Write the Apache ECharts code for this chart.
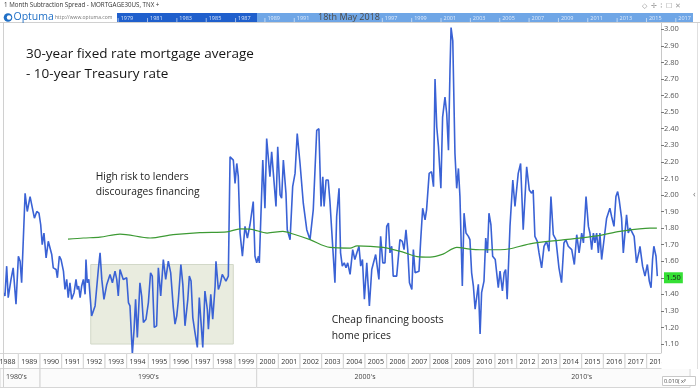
<!DOCTYPE html>
<html><head><meta charset="utf-8">
<script src="https://cdn.jsdelivr.net/npm/echarts@6/dist/echarts.min.js"></script>
<style>html,body{margin:0;padding:0;background:#fff}#c{width:700px;height:391px}</style>
</head><body><div id="c"></div>
<script>
// ---------- DATA ----------
const spreadYears = [
1988.34,1988.38,1988.46,1988.53,1988.66,1988.76,1988.89,1989.00,1989.08,1989.15,1989.31,1989.41,1989.54,1989.61,1989.74,1989.85,1989.95,
1990.03,1990.10,1990.18,1990.28,1990.38,1990.46,1990.54,1990.61,1990.74,1990.80,1990.89,1990.97,
1991.08,1991.15,1991.23,1991.30,1991.38,1991.46,1991.57,1991.66,1991.72,1991.78,1991.85,1991.92,
1992.00,1992.08,1992.12,1992.18,1992.25,1992.38,1992.54,1992.69,1992.77,1992.85,1992.95,
1993.08,1993.23,1993.34,1993.46,1993.54,1993.61,1993.69,1993.84,
1994.00,1994.08,1994.15,1994.26,1994.34,1994.41,1994.49,1994.61,1994.69,1994.77,1994.89,
1995.00,1995.10,1995.18,1995.27,1995.38,1995.46,1995.57,1995.69,1995.80,1995.92,
1996.03,1996.15,1996.23,1996.31,1996.38,1996.50,1996.59,1996.69,1996.82,1996.89,1996.97,
1997.05,1997.15,1997.26,1997.35,1997.43,1997.51,1997.61,1997.72,1997.77,1997.88,1997.97,
1998.08,1998.12,1998.23,1998.31,1998.41,1998.49,1998.58,1998.69,1998.77,1998.92,
1999.00,1999.08,1999.15,1999.23,1999.34,1999.46,1999.57,1999.69,1999.84,1999.92,
2000.00,2000.08,2000.12,2000.28,2000.38,2000.46,2000.61,2000.69,2000.89,2000.97,
2001.08,2001.15,2001.23,2001.35,2001.41,2001.54,2001.66,2001.77,2001.87,
2002.00,2002.15,2002.23,2002.31,2002.38,2002.46,2002.61,2002.77,2002.87,2002.97,
2003.05,2003.11,2003.20,2003.30,2003.38,2003.46,2003.61,2003.69,2003.80,2003.87,2003.95,
2004.04,2004.12,2004.20,2004.31,2004.43,2004.53,2004.62,2004.72,2004.80,2004.88,2004.97,
2005.08,2005.20,2005.31,2005.49,2005.64,2005.72,2005.82,2005.92,
2006.00,2006.08,2006.15,2006.23,2006.30,2006.46,2006.61,2006.72,2006.80,2006.89,2006.97,
2007.05,2007.16,2007.23,2007.31,2007.39,2007.49,2007.57,2007.66,2007.77,2007.84,2007.96,
2008.07,2008.16,2008.23,2008.31,2008.39,2008.50,2008.58,2008.69,2008.77,2008.85,2008.92,2008.97,
2009.05,2009.15,2009.23,2009.31,2009.38,2009.49,2009.57,2009.66,2009.77,2009.84,2009.92,
2010.00,2010.08,2010.16,2010.23,2010.31,2010.38,2010.49,2010.57,2010.65,2010.72,2010.81,2010.89,
2011.01,2011.15,2011.23,2011.34,2011.42,2011.49,2011.56,2011.69,2011.82,2011.92,
2012.00,2012.07,2012.18,2012.30,2012.46,2012.58,2012.69,2012.76,2012.84,2012.95,
2013.03,2013.15,2013.26,2013.38,2013.49,2013.58,2013.69,2013.81,2013.95,
2014.07,2014.18,2014.27,2014.38,2014.54,2014.66,2014.77,2014.88,
2015.00,2015.08,2015.20,2015.31,2015.38,2015.46,2015.54,2015.61,2015.69,2015.77,2015.84,2015.92,
2016.04,2016.15,2016.30,2016.38,2016.49,2016.58,2016.66,2016.73,2016.84,2016.92,2016.99,
2017.07,2017.15,2017.23,2017.31,2017.42,2017.53,2017.65,2017.69,2017.81,2017.92,
2018.03,2018.12,2018.20,2018.27,2018.33,2018.43,2018.49
];
const spreadValues = [
1.41,1.39,1.57,1.38,1.49,1.56,1.34,1.63,1.60,1.47,2.01,1.90,1.99,1.98,1.86,1.90,1.89,
1.82,1.70,1.77,1.62,1.72,1.72,1.64,1.56,1.55,1.50,1.63,1.61,
1.54,1.43,1.49,1.38,1.47,1.37,1.41,1.49,1.43,1.45,1.38,1.45,
1.49,1.40,1.61,1.47,1.49,1.27,1.33,1.55,1.65,1.49,1.37,
1.46,1.52,1.47,1.54,1.49,1.39,1.55,1.49,
1.50,1.35,1.33,1.04,1.19,1.37,1.14,1.47,1.39,1.23,1.25,
1.35,1.53,1.51,1.20,1.21,1.56,1.39,1.61,1.49,1.60,
1.53,1.32,1.22,1.27,1.36,1.58,1.46,1.21,1.37,1.51,1.48,
1.26,1.17,1.08,1.38,1.23,1.08,1.42,1.31,1.19,1.40,1.25,
1.45,1.60,1.43,1.46,1.52,1.53,1.48,1.51,2.23,2.21,
2.07,2.19,2.11,1.77,1.63,1.81,1.74,1.82,1.96,1.63,
1.59,1.63,1.59,2.21,1.92,2.34,2.11,2.26,1.93,2.29,
2.00,1.98,2.21,2.01,1.79,1.73,2.05,2.13,2.37,
2.19,1.95,1.95,1.79,1.79,1.73,1.91,2.39,2.40,1.93,
2.11,1.93,2.09,2.09,1.96,1.95,1.47,1.87,2.04,1.65,1.57,
1.59,1.56,1.59,1.52,1.67,1.61,1.65,1.69,1.57,1.61,1.37,
1.59,1.33,1.55,1.64,1.49,1.75,1.59,1.59,
1.81,1.83,1.65,1.69,1.51,1.51,1.73,1.72,1.67,1.79,1.67,
1.47,1.43,1.67,1.53,1.53,1.54,1.73,1.92,1.85,1.91,2.13,
2.14,2.05,2.70,2.41,2.29,2.04,2.47,2.59,2.49,2.27,2.75,3.01,
2.93,2.25,2.04,2.16,1.99,1.45,1.89,1.77,1.75,1.73,1.53,
1.45,1.31,1.39,1.46,1.16,1.41,1.48,1.74,1.65,1.89,1.82,1.63,
1.61,1.44,1.54,1.42,1.53,1.55,1.37,1.81,2.09,1.93,
1.93,2.13,2.19,1.79,2.17,2.03,2.01,2.03,1.75,1.72,
1.65,1.56,1.69,1.72,1.66,1.99,1.76,1.73,1.56,
1.47,1.71,1.73,1.69,1.67,1.58,1.76,1.65,
1.77,1.71,1.99,1.81,1.77,1.67,1.77,1.71,1.77,1.65,1.77,1.61,
1.74,1.86,1.92,1.87,1.81,1.99,2.02,1.97,1.86,1.65,1.66,
1.88,1.77,1.80,1.79,1.75,1.59,1.66,1.69,1.57,1.51,
1.58,1.48,1.44,1.61,1.69,1.63,1.51
];
const avgYears = [1991.29,1992.00,1992.77,1993.69,1995.08,1996.14,1997.38,1998.63,1999.23,1999.69,2000.48,2001.21,2001.68,2002.46,2003.38,2004.31,2004.63,2005.83,2006.75,2007.40,2008.00,2008.60,2009.24,2009.84,2010.30,2011.23,2011.69,2012.61,2014.13,2015.70,2016.77,2018.15,2018.47];
const avgValues = [1.733,1.740,1.745,1.764,1.740,1.760,1.773,1.777,1.795,1.794,1.770,1.780,1.764,1.730,1.683,1.679,1.693,1.683,1.655,1.628,1.625,1.643,1.683,1.673,1.669,1.669,1.675,1.705,1.729,1.753,1.780,1.800,1.800];
const yearLabels = [1988,1989,1990,1991,1992,1993,1994,1995,1996,1997,1998,1999,2000,2001,2002,2003,2004,2005,2006,2007,2008,2009,2010,2011,2012,2013,2014,2015,2016,2017,2018];
const decadeStarts = [1980,1990,2000,2010];
const decadeLabels = ["1980's","1990's","2000's","2010's"];
const timelineYears = [1979,1981,1983,1985,1987,1989,1991,1997,1999,2001,2003,2005,2007,2009,2011,2013,2015,2017];
const boxYears = [1992.34, 1998.92];
const boxValues = [1.10, 1.58];
const lastValue = 1.50;
const headerTitle = '1 Month Subtraction Spread - MORTGAGE30US, TNX';
const dateText = '18th May 2018';
const titleLines = ['30-year fixed rate mortgage average', '- 10-year Treasury rate'];
const noteRisk = ['High risk to lenders', 'discourages financing'];
const noteCheap = ['Cheap financing boosts', 'home prices'];

// ---------- LAYOUT ----------
const FONT = "'Open Sans', sans-serif";
const X_MIN = 1988.29, X_MAX = 2018.66;
const ROW1_Y = 353, ROW1_H = 15, ROW2_H = 19;

const chart = echarts.init(document.getElementById('c'), null, {renderer: 'canvas'});

function yearCell(params, api) {
  const yr = api.value(0);
  const x0 = api.coord([yr, 2])[0];
  const x1 = api.coord([yr + 1, 2])[0];
  return {type: 'group', children: [
    {type: 'rect', shape: {x: x0, y: ROW1_Y + 0.5, width: x1 - x0, height: ROW1_H}, style: {fill: '#fff', stroke: '#d6d6d6', lineWidth: 1}},
    {type: 'text', style: {text: String(yr), x: (x0 + x1) / 2, y: ROW1_Y + ROW1_H / 2 + 1, align: 'center', verticalAlign: 'middle', fontSize: 7, fontFamily: FONT, fill: '#333'}}
  ]};
}
function decadeCell(params, api) {
  const d = api.value(0);
  const x0 = Math.max(api.coord([d, 2])[0], 0);
  const x1 = Math.min(api.coord([d + 10, 2])[0], 697);
  const y = ROW1_Y + ROW1_H + 0.5;
  return {type: 'group', children: [
    {type: 'rect', shape: {x: x0, y: y, width: x1 - x0, height: ROW2_H}, style: {fill: '#fbfbfb', stroke: '#d6d6d6', lineWidth: 1}},
    {type: 'text', style: {text: decadeLabels[params.dataIndex], x: x0 < 5 ? x0 + 6 : (x0 + x1) / 2, y: y + ROW2_H / 2 - 1, align: x0 < 5 ? 'left' : 'center', verticalAlign: 'middle', fontSize: 7, fontFamily: FONT, fill: '#444'}}
  ]};
}
function timelineSpan(params, api) {
  const x0 = api.coord([api.value(0), 0])[0];
  const x1 = api.coord([api.value(1), 0])[0];
  const top = api.coord([api.value(0), 1])[1];
  const bot = api.coord([api.value(0), 0])[1];
  return {type: 'rect', shape: {x: x0, y: top, width: x1 - x0, height: bot - top},
    style: {fill: params.dataIndex === 0 ? '#1f5fcc' : '#6fa6e6'}};
}
function timelineTick(params, api) {
  const p = api.coord([api.value(0), 0]);
  const top = api.coord([api.value(0), 1])[1];
  return {type: 'group', children: [
    {type: 'line', shape: {x1: p[0] - 2.5, y1: p[1] - 4, x2: p[0] - 2.5, y2: p[1]}, style: {stroke: 'rgba(255,255,255,0.7)', lineWidth: 0.8}},
    {type: 'text', style: {text: String(api.value(0)), x: p[0], y: (top + p[1]) / 2 + 0.5, verticalAlign: 'middle', fontSize: 5.5, fontFamily: FONT, fill: 'rgba(235,243,255,0.9)'}}
  ]};
}

const spreadData = spreadYears.map((x, i) => [x, spreadValues[i]]);
const avgData = avgYears.map((x, i) => [x, avgValues[i]]);

const textEl = (t, x, y, size, color, extra) => Object.assign({
  type: 'text', x: x, y: y, z: 60, silent: true,
  style: {text: t, fontSize: size, fontFamily: FONT, fill: color, verticalAlign: 'middle'}
}, extra || {});

chart.setOption({
  animation: false,
  backgroundColor: '#fff',
  textStyle: {fontFamily: FONT},
  grid: [
    {left: 3, right: 39, top: 12.7, bottom: 30.4},
    {left: 117, width: 576, top: 13, height: 9}
  ],
  xAxis: [
    {type: 'value', gridIndex: 0, min: X_MIN, max: X_MAX, show: false},
    {type: 'value', gridIndex: 1, min: 1978.75, max: 2018.0, show: false}
  ],
  yAxis: [
    {type: 'value', gridIndex: 0, position: 'right', min: 1.0, max: 3.1, interval: 0.1, z: 3,
      axisLine: {show: true, lineStyle: {color: '#c8c8c8'}},
      axisTick: {show: true, length: 3, lineStyle: {color: '#777'}},
      splitLine: {show: false},
      axisLabel: {margin: 3, fontSize: 7.5, color: '#555', fontFamily: FONT, showMaxLabel: false,
        formatter: v => Math.abs(v - lastValue) < 1e-6 ? '{hl|' + v.toFixed(2) + '}' : v.toFixed(2),
        rich: {hl: {backgroundColor: '#35e035', color: '#1a1a1a', padding: [2, 2, 1, 2], fontSize: 7.5, fontFamily: FONT}}}},
    {type: 'value', gridIndex: 1, min: 0, max: 1, show: false}
  ],
  series: [
    {type: 'line', name: 'spread', data: spreadData, showSymbol: false, z: 2,
      lineStyle: {color: '#3a62d5', width: 1.6}, itemStyle: {color: '#3a62d5'},
      markArea: {silent: true, itemStyle: {color: '#e9ecdf', borderColor: '#d2d8c8', borderWidth: 1},
        data: [[{coord: [boxYears[0], boxValues[0]]}, {coord: [boxYears[1], boxValues[1]]}]]}},
    {type: 'line', name: 'average', data: avgData, showSymbol: false, smooth: 0.3, z: 2,
      lineStyle: {color: '#3d9a34', width: 1.2}},
    {type: 'custom', name: 'years', xAxisIndex: 0, yAxisIndex: 0, z: 4, silent: true, clip: false,
      data: yearLabels.map(y => [y]), renderItem: yearCell},
    {type: 'custom', name: 'decades', xAxisIndex: 0, yAxisIndex: 0, z: 4, silent: true, clip: false,
      data: decadeStarts.map(d => [d]), renderItem: decadeCell},
    {type: 'custom', name: 'tlspan', xAxisIndex: 1, yAxisIndex: 1, z: 70, silent: true, clip: false,
      data: [[1978.75, X_MIN], [X_MIN, 2018.0]], renderItem: timelineSpan},
    {type: 'custom', name: 'tlticks', xAxisIndex: 1, yAxisIndex: 1, z: 71, silent: true, clip: false,
      data: timelineYears.map(y => [y]), renderItem: timelineTick}
  ],
  graphic: [
    {type: 'rect', z: 50, silent: true, shape: {x: 0, y: 0, width: 700, height: 22.5}, style: {fill: '#fff'}},
    {type: 'line', z: 51, silent: true, shape: {x1: 0, y1: 22.5, x2: 700, y2: 22.5}, style: {stroke: '#d0d0d0', lineWidth: 1}},
    {type: 'rect', z: 5, silent: true, shape: {x: 661.5, y: ROW1_Y, width: 38.5, height: ROW1_H + 1}, style: {fill: '#fff'}},
    {type: 'line', z: 6, silent: true, shape: {x1: 3.5, y1: 22, x2: 3.5, y2: 387}, style: {stroke: '#d0d0d0', lineWidth: 1}},
    {type: 'line', z: 6, silent: true, shape: {x1: 697.5, y1: 22, x2: 697.5, y2: 369}, style: {stroke: '#e0e0e0', lineWidth: 1}},
    textEl(headerTitle + ' +', 4, 5.5, 6.2, '#333'),
    textEl('◇  ✢  ⁞  ☐  ✕', 642, 6, 7, '#9a9a9a'),
    {type: 'circle', z: 60, silent: true, shape: {cx: 8, cy: 17.5, r: 4.3}, style: {fill: '#1f6fc6'}},
    {type: 'circle', z: 61, silent: true, shape: {cx: 9, cy: 17.5, r: 2.2}, style: {fill: '#fff'}},
    textEl('Optuma', 13.5, 17.5, 10.5, '#1f6fc6'),
    textEl('http://www.optuma.com', 55, 18, 5, '#777'),
    Object.assign(textEl(dateText, 349, 17.5, 9, '#4a4a4a'), {z: 80, style: {text: dateText, fontSize: 9, fontFamily: FONT, fill: '#4a4a4a', align: 'center', verticalAlign: 'middle'}}),
    textEl(titleLines[0], 26, 54, 13.5, '#151515'),
    textEl(titleLines[1], 26, 74, 13.5, '#151515'),
    textEl(noteRisk[0], 95.7, 176.7, 10.3, '#222'),
    textEl(noteRisk[1], 95.7, 192.3, 10.3, '#222'),
    textEl(noteCheap[0], 331.7, 320.5, 10.3, '#222'),
    textEl(noteCheap[1], 331.7, 336.5, 10.3, '#222'),
    textEl('‹', 693, 194, 9, '#777'),
    {type: 'rect', z: 60, silent: true, shape: {x: 662.5, y: 376.5, width: 33, height: 9}, style: {fill: '#fff', stroke: '#c8c8c8', lineWidth: 1}},
    textEl('0.010( xʸ', 664, 381, 5.5, '#444')
  ]
});
</script></body></html>
